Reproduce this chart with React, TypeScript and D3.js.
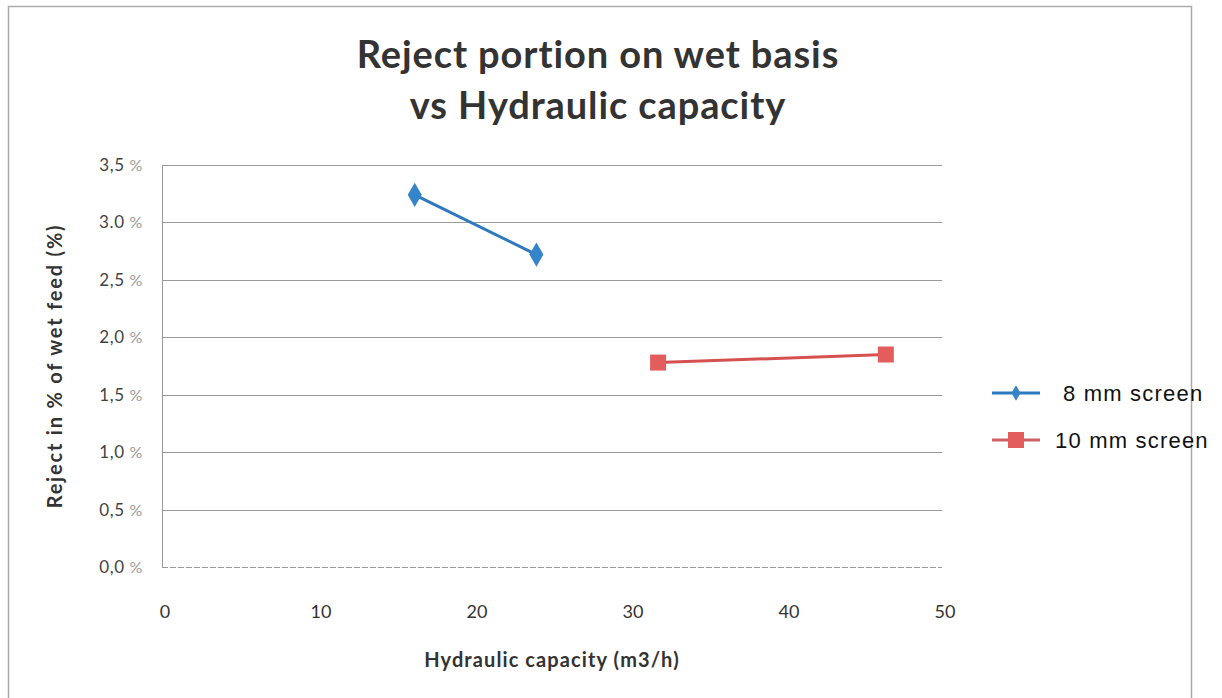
// @ts-nocheck
import { useEffect, useRef } from 'react';
import * as d3 from 'd3';

const screen8X = [16.2, 24.0];
const screen8Y = [3.24, 2.72];
const screen10X = [31.8, 46.4];
const screen10Y = [1.78, 1.85];
const yTicks = [0, 0.5, 1.0, 1.5, 2.0, 2.5, 3.0, 3.5];
const yTickLabels = ['0,0', '0,5', '1,0', '1,5', '2,0', '2,5', '3.0', '3,5'];
const xTicks = [0, 10, 20, 30, 40, 50];

const App = () => {
  const svgRef = useRef();

  useEffect(() => {
    const svg = d3.select(svgRef.current);
    svg.selectAll('*').remove();

    const left = 162, right = 942, top = 165, bottom = 567;
    const x = d3.scaleLinear().domain([0, 50]).range([left, right]);
    const y = d3.scaleLinear().domain([0, 3.5]).range([bottom, top]);
    const font = 'Lato, "Open Sans", sans-serif';

    // outer frame
    svg.append('rect')
      .attr('x', 8.5).attr('y', 6.5)
      .attr('width', 1183).attr('height', 700)
      .attr('fill', 'white')
      .attr('stroke', '#aaa')
      .attr('stroke-width', 1.5);

    // title
    const title = svg.append('text')
      .attr('x', 598)
      .attr('text-anchor', 'middle')
      .style('font-family', font)
      .style('font-weight', 'bold')
      .style('font-size', '38px')
      .style('letter-spacing', '0.9px')
      .attr('fill', '#333');
    title.append('tspan').attr('x', 598).attr('y', 68).text('Reject portion on wet basis');
    title.append('tspan').attr('x', 598).attr('y', 119).text('vs Hydraulic capacity');

    // gridlines
    svg.append('g')
      .selectAll('line')
      .data(yTicks)
      .enter()
      .append('line')
      .attr('x1', left).attr('x2', right)
      .attr('y1', d => Math.round(y(d)) + 0.5)
      .attr('y2', d => Math.round(y(d)) + 0.5)
      .attr('stroke', '#9a9a9a')
      .attr('stroke-width', 1)
      .attr('stroke-dasharray', d => (d === 0 ? '6,2' : null));

    // left axis line
    svg.append('line')
      .attr('x1', left + 0.5).attr('x2', left + 0.5)
      .attr('y1', top).attr('y2', bottom)
      .attr('stroke', '#999');

    // y tick labels
    const yl = svg.append('g')
      .selectAll('text')
      .data(yTicks)
      .enter()
      .append('text')
      .attr('x', 143)
      .attr('y', d => y(d) + 6)
      .attr('text-anchor', 'end')
      .style('font-family', font)
      .style('font-size', '17px')
      .style('letter-spacing', '0.6px')
      .attr('fill', '#444');
    yl.append('tspan').text((d, i) => yTickLabels[i] + ' ');
    yl.append('tspan').attr('fill', '#999').style('font-size', '16px').text('%');

    // x tick labels
    svg.append('g')
      .selectAll('text')
      .data(xTicks)
      .enter()
      .append('text')
      .attr('x', d => x(d) + 3)
      .attr('y', 618)
      .attr('text-anchor', 'middle')
      .style('font-family', font)
      .style('font-size', '18px')
      .attr('fill', '#333')
      .text(d => d);

    // axis titles
    svg.append('text')
      .attr('x', 552).attr('y', 667)
      .attr('text-anchor', 'middle')
      .style('font-family', font)
      .style('font-weight', 'bold')
      .style('font-size', '20px')
      .style('letter-spacing', '1.1px')
      .attr('fill', '#333')
      .text('Hydraulic capacity (m3/h)');

    svg.append('text')
      .attr('transform', `translate(62,${(top + bottom) / 2}) rotate(-90)`)
      .attr('text-anchor', 'middle')
      .style('font-family', font)
      .style('font-weight', 'bold')
      .style('font-size', '20px')
      .style('letter-spacing', '1.8px')
      .attr('fill', '#333')
      .text('Reject in % of wet feed (%)');

    const line = d3.line().x(d => x(d[0])).y(d => y(d[1]));
    const blue = '#3384c9';
    const red = '#e35d5d';

    const s8 = screen8X.map((v, i) => [v, screen8Y[i]]);
    const s10 = screen10X.map((v, i) => [v, screen10Y[i]]);

    svg.append('path').datum(s8)
      .attr('d', line).attr('fill', 'none')
      .attr('stroke', '#2e78bd').attr('stroke-width', 3);
    svg.append('g').selectAll('path')
      .data(s8).enter().append('path')
      .attr('d', d3.symbol(d3.symbolDiamond, 170))
      .attr('transform', d => `translate(${x(d[0])},${y(d[1])})`)
      .attr('fill', blue);

    svg.append('path').datum(s10)
      .attr('d', line).attr('fill', 'none')
      .attr('stroke', '#d65050').attr('stroke-width', 3);
    svg.append('g').selectAll('rect')
      .data(s10).enter().append('rect')
      .attr('x', d => x(d[0]) - 8).attr('y', d => y(d[1]) - 8)
      .attr('width', 16).attr('height', 16)
      .attr('fill', red);

    // legend
    const legend = [
      { name: '8 mm screen', color: '#2e78bd', fill: blue, kind: 'diamond', y: 393, tx: 1063 },
      { name: '10 mm screen', color: '#c96060', fill: red, kind: 'square', y: 440, tx: 1055 }
    ];
    legend.forEach(l => {
      svg.append('line')
        .attr('x1', 992).attr('x2', 1040)
        .attr('y1', l.y).attr('y2', l.y)
        .attr('stroke', l.color).attr('stroke-width', 3);
      if (l.kind === 'diamond') {
        svg.append('path')
          .attr('d', d3.symbol(d3.symbolDiamond, 70))
          .attr('transform', `translate(1016,${l.y})`)
          .attr('fill', l.fill);
      } else {
        svg.append('rect')
          .attr('x', 1008).attr('y', l.y - 8)
          .attr('width', 16).attr('height', 16)
          .attr('fill', l.fill);
      }
      svg.append('text')
        .attr('x', l.tx).attr('y', l.y + 8)
        .style('font-family', 'Arial, "Liberation Sans", sans-serif')
        .style('font-size', '22px')
        .style('letter-spacing', '1.2px')
        .attr('fill', '#111')
        .text(l.name);
    });
  }, []);

  return (
    <svg
      ref={svgRef}
      width={1222}
      height={698}
      style={{ position: 'absolute', left: 0, top: 0, background: 'white' }}
    ></svg>
  );
};

export default App;
